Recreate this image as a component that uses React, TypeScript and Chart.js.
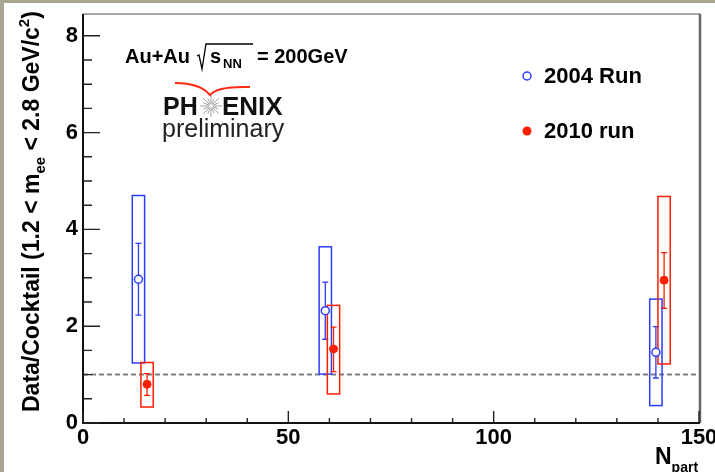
import React, { useEffect, useRef } from 'react';
import { Chart, registerables } from 'chart.js';

Chart.register(...registerables);

// ---------------- data ----------------
const seriesNames = ['2004 Run', '2010 run'];

const npart2004 = [13.5, 59.0, 139.5];
const ratio2004 = [2.97, 2.32, 1.46];
const statLow2004 = [2.23, 1.73, 0.93];
const statHigh2004 = [3.71, 2.91, 1.99];
const sysLow2004 = [1.24, 1.01, 0.36];
const sysHigh2004 = [4.7, 3.64, 2.56];

const npart2010 = [15.6, 61.0, 141.5];
const ratio2010 = [0.8, 1.53, 2.95];
const statLow2010 = [0.57, 1.06, 2.37];
const statHigh2010 = [1.02, 1.98, 3.52];
const sysLow2010 = [0.33, 0.6, 1.22];
const sysHigh2010 = [1.25, 2.43, 4.68];

const sysHalfWidth = 1.5; // in N_part units
const referenceLevel = 1;

const xRange = [0, 150];
const yRange = [0, 8.45];
const xTickLabels = [0, 50, 100, 150];
const yTickLabels = [0, 2, 4, 6, 8];
const xMinorStep = 10;
const yMinorStep = 0.5;

// ---------------- styles ----------------
const FONT = "'Liberation Sans', Arial, Helvetica, sans-serif";
const BLUE = '#2b3dff';
const RED = '#ff1e00';

type Part = { t: string; size: number; dy: number; weight?: string };

function drawRich(ctx: CanvasRenderingContext2D, parts: Part[], x: number, y: number) {
  let cx = x;
  for (const p of parts) {
    ctx.font = `${p.weight || 'bold'} ${p.size}px ${FONT}`;
    ctx.fillText(p.t, cx, y + p.dy);
    cx += ctx.measureText(p.t).width;
  }
  return cx;
}

function drawSeries(
  ctx: CanvasRenderingContext2D,
  xs: any,
  ys: any,
  xv: number[],
  sl: number[],
  sh: number[],
  el: number[],
  eh: number[],
  color: string
) {
  ctx.save();
  ctx.strokeStyle = color;
  for (let i = 0; i < xv.length; i++) {
    const x0 = xs.getPixelForValue(xv[i] - sysHalfWidth);
    const x1 = xs.getPixelForValue(xv[i] + sysHalfWidth);
    const y0 = ys.getPixelForValue(sh[i]);
    const y1 = ys.getPixelForValue(sl[i]);
    ctx.lineWidth = 1.5;
    ctx.strokeRect(x0, y0, x1 - x0, y1 - y0);
    const xc = xs.getPixelForValue(xv[i]);
    const ya = ys.getPixelForValue(eh[i]);
    const yb = ys.getPixelForValue(el[i]);
    ctx.lineWidth = 1.3;
    ctx.beginPath();
    ctx.moveTo(xc, ya);
    ctx.lineTo(xc, yb);
    ctx.moveTo(xc - 3, ya);
    ctx.lineTo(xc + 3, ya);
    ctx.moveTo(xc - 3, yb);
    ctx.lineTo(xc + 3, yb);
    ctx.stroke();
  }
  ctx.restore();
}

const decorPlugin = {
  id: 'decor',
  beforeDraw(chart: any) {
    const ctx: CanvasRenderingContext2D = chart.ctx;
    ctx.save();
    ctx.fillStyle = '#ffffff';
    ctx.fillRect(0, 0, chart.width, chart.height);
    ctx.fillStyle = '#a8a690';
    ctx.fillRect(0, 0, chart.width, 3);
    ctx.fillRect(0, 0, 4, chart.height);
    ctx.restore();
  },
  beforeDatasetsDraw(chart: any) {
    const ctx: CanvasRenderingContext2D = chart.ctx;
    const a = chart.chartArea;
    const xs = chart.scales.x;
    const ys = chart.scales.y;
    ctx.save();
    ctx.strokeStyle = '#7f7f7f';
    ctx.lineWidth = 2;
    ctx.setLineDash([5, 3]);
    const yr = ys.getPixelForValue(referenceLevel);
    ctx.beginPath();
    ctx.moveTo(a.left, yr);
    ctx.lineTo(a.right, yr);
    ctx.stroke();
    ctx.restore();
    drawSeries(ctx, xs, ys, npart2004, sysLow2004, sysHigh2004, statLow2004, statHigh2004, BLUE);
    drawSeries(ctx, xs, ys, npart2010, sysLow2010, sysHigh2010, statLow2010, statHigh2010, RED);
  },
  afterDatasetsDraw(chart: any) {
    const ctx: CanvasRenderingContext2D = chart.ctx;
    const a = chart.chartArea;
    const xs = chart.scales.x;
    const ys = chart.scales.y;
    ctx.save();
    ctx.strokeStyle = '#8a8a8a';
    ctx.lineWidth = 1.5;
    ctx.beginPath();
    ctx.moveTo(a.left, a.top);
    ctx.lineTo(a.right + 1, a.top);
    ctx.stroke();
    ctx.strokeStyle = '#666666';
    ctx.lineWidth = 2.5;
    ctx.beginPath();
    ctx.moveTo(a.right + 1, a.top);
    ctx.lineTo(a.right + 1, a.bottom);
    ctx.stroke();
    ctx.strokeStyle = '#111111';
    ctx.lineWidth = 2;
    ctx.beginPath();
    ctx.moveTo(a.left, a.top);
    ctx.lineTo(a.left, a.bottom);
    ctx.lineTo(a.right + 1, a.bottom);
    ctx.stroke();
    ctx.lineWidth = 1.4;
    ctx.strokeStyle = '#222222';
    ctx.beginPath();
    for (const t of ys.ticks) {
      const v = t.value;
      const k = v / yMinorStep;
      if (Math.abs(k - Math.round(k)) > 1e-6) continue;
      const major = yTickLabels.indexOf(v) >= 0;
      const py = ys.getPixelForValue(v);
      ctx.moveTo(a.left, py);
      ctx.lineTo(a.left + (major ? 17 : 9), py);
    }
    for (const t of xs.ticks) {
      const v = t.value;
      const k = v / xMinorStep;
      if (Math.abs(k - Math.round(k)) > 1e-6) continue;
      const major = xTickLabels.indexOf(v) >= 0;
      const px = xs.getPixelForValue(v);
      ctx.moveTo(px, a.bottom);
      ctx.lineTo(px, a.bottom - (major ? 12 : 5));
    }
    ctx.stroke();

    ctx.fillStyle = '#000000';
    ctx.textBaseline = 'alphabetic';
    ctx.textAlign = 'left';

    // y-axis title
    ctx.save();
    ctx.translate(38.5, 412);
    ctx.rotate(-Math.PI / 2);
    drawRich(
      ctx,
      [
        { t: 'Data/Cocktail (1.2 < m', size: 23, dy: 0 },
        { t: 'ee', size: 15, dy: 6 },
        { t: ' < 2.8 GeV/c', size: 23, dy: 0 },
        { t: '2', size: 15, dy: -10 },
        { t: ')', size: 23, dy: 0 },
      ],
      0,
      0
    );
    ctx.restore();

    // x-axis title
    drawRich(
      ctx,
      [
        { t: 'N', size: 23, dy: 0 },
        { t: 'part', size: 14, dy: 8 },
      ],
      655,
      464
    );

    // collision label
    drawRich(ctx, [{ t: 'Au+Au', size: 20, dy: 0 }], 125, 63);
    const rx = 197;
    ctx.lineWidth = 1.3;
    ctx.strokeStyle = '#000';
    ctx.beginPath();
    ctx.moveTo(rx, 56);
    ctx.lineTo(rx + 2, 55);
    ctx.lineTo(rx + 5, 69);
    ctx.lineTo(rx + 9, 44);
    ctx.lineTo(rx + 56, 44);
    ctx.stroke();
    drawRich(ctx, [{ t: 's', size: 20, dy: 0 }], 210, 63);
    drawRich(ctx, [{ t: 'NN', size: 13, dy: 5 }], 223, 63);
    drawRich(ctx, [{ t: '= 200GeV', size: 20, dy: 0 }], 257, 63);

    // PHENIX logo
    ctx.fillStyle = '#111111';
    drawRich(ctx, [{ t: 'PH', size: 25, dy: 0 }], 163, 115);
    drawRich(ctx, [{ t: 'ENIX', size: 26, dy: 0 }], 222, 115);
    ctx.strokeStyle = '#a0a0a0';
    ctx.lineWidth = 1;
    ctx.beginPath();
    const sx = 211;
    const sy = 106;
    for (let i = 0; i < 16; i++) {
      const ang = (i * Math.PI) / 8;
      const r = i % 2 === 0 ? 11 : 8;
      ctx.moveTo(sx + Math.cos(ang) * 2, sy + Math.sin(ang) * 2);
      ctx.lineTo(sx + Math.cos(ang) * r, sy + Math.sin(ang) * r);
    }
    ctx.stroke();
    ctx.strokeStyle = '#ff2a10';
    ctx.lineWidth = 2;
    ctx.beginPath();
    ctx.moveTo(175, 83);
    ctx.quadraticCurveTo(200, 83, 210, 95);
    ctx.quadraticCurveTo(217, 86, 250, 87);
    ctx.stroke();
    ctx.fillStyle = '#222222';
    drawRich(ctx, [{ t: 'preliminary', size: 25, dy: 0, weight: 'normal' }], 162, 137);

    // legend
    ctx.strokeStyle = BLUE;
    ctx.lineWidth = 1.5;
    ctx.beginPath();
    ctx.arc(527, 76, 4, 0, Math.PI * 2);
    ctx.stroke();
    ctx.fillStyle = RED;
    ctx.beginPath();
    ctx.arc(527, 131, 4.5, 0, Math.PI * 2);
    ctx.fill();
    ctx.fillStyle = '#000000';
    drawRich(ctx, [{ t: seriesNames[0], size: 22, dy: 0 }], 544, 83);
    drawRich(ctx, [{ t: seriesNames[1], size: 22, dy: 0 }], 544, 138);

    ctx.restore();
  },
};

export default function App() {
  const ref = useRef<HTMLCanvasElement | null>(null);
  useEffect(() => {
    document.body.style.margin = '0';
    const canvas = ref.current;
    if (!canvas) return;
    const chart = new Chart(canvas, {
      type: 'scatter',
      data: {
        datasets: [
          {
            label: seriesNames[0],
            data: npart2004.map((x, i) => ({ x, y: ratio2004[i] })),
            pointStyle: 'circle',
            pointRadius: 4,
            pointBorderWidth: 1.5,
            borderColor: BLUE,
            pointBorderColor: BLUE,
            pointBackgroundColor: '#ffffff',
            showLine: false,
          },
          {
            label: seriesNames[1],
            data: npart2010.map((x, i) => ({ x, y: ratio2010[i] })),
            pointStyle: 'circle',
            pointRadius: 4,
            pointBorderWidth: 1,
            borderColor: RED,
            pointBorderColor: RED,
            pointBackgroundColor: RED,
            showLine: false,
          },
        ],
      },
      options: {
        responsive: false,
        maintainAspectRatio: false,
        devicePixelRatio: 1,
        animation: false,
        events: [],
        layout: { padding: { top: 14, right: 16, left: 0, bottom: 0 } },
        plugins: { legend: { display: false }, tooltip: { enabled: false } },
        scales: {
          x: {
            type: 'linear',
            min: xRange[0],
            max: xRange[1],
            grid: { display: false, drawTicks: false },
            border: { display: false },
            ticks: {
              stepSize: xMinorStep,
              autoSkip: false,
              includeBounds: false,
              maxRotation: 0,
              padding: 2,
              color: '#000',
              font: { family: FONT, size: 22, weight: 'bold' },
              callback: (v: any) => (xTickLabels.indexOf(Number(v)) >= 0 ? String(v) : ''),
            },
            afterFit: (s: any) => {
              s.height = 49;
              s.paddingLeft = 0;
              s.paddingRight = 0;
            },
          },
          y: {
            type: 'linear',
            min: yRange[0],
            max: yRange[1],
            grid: { display: false, drawTicks: false },
            border: { display: false },
            ticks: {
              stepSize: yMinorStep,
              autoSkip: false,
              includeBounds: false,
              padding: 5,
              color: '#000',
              font: { family: FONT, size: 22, weight: 'bold' },
              callback: (v: any) => (yTickLabels.indexOf(Number(v)) >= 0 ? String(v) : ''),
            },
            afterFit: (s: any) => {
              s.width = 83;
              s.paddingTop = 0;
              s.paddingBottom = 0;
            },
          },
        },
      },
      plugins: [decorPlugin],
    } as any);
    return () => chart.destroy();
  }, []);
  return <canvas ref={ref} width={715} height={472} style={{ display: 'block', width: 715, height: 472 }} />;
}
